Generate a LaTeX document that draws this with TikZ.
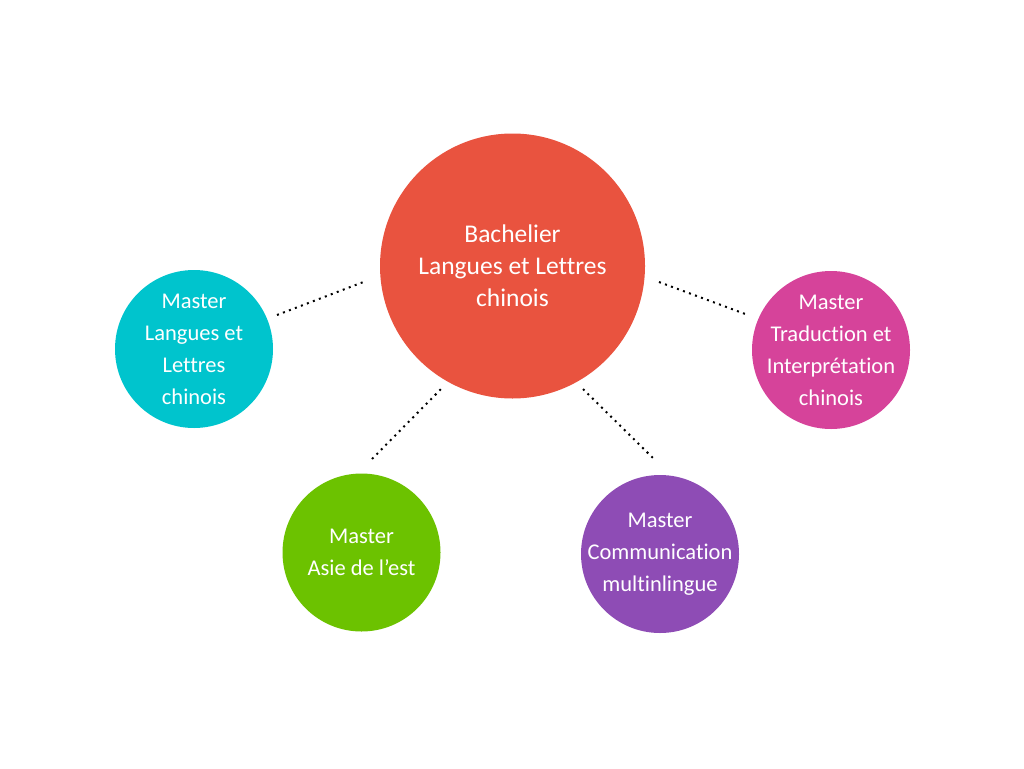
\documentclass[tikz,border=0pt]{standalone}
\usepackage{fontspec}
\setmainfont{Carlito}[Ligatures=NoCommon]
\definecolor{bachred}{HTML}{E9533F}
\definecolor{llcyan}{HTML}{00C4CD}
\definecolor{asgreen}{HTML}{6CC200}
\definecolor{compurple}{HTML}{8E4CB5}
\definecolor{tradpink}{HTML}{D6439A}
\begin{document}
\begin{tikzpicture}[x=1pt,y=-1pt,
    bigdisc/.style={circle,minimum size=265pt,inner sep=-20pt,align=center,text=white,
        font=\fontsize{25.5}{32}\selectfont},
    disc/.style={circle,minimum size=158pt,inner sep=-20pt,align=center,text=white,
        font=\fontsize{22.5}{32}\selectfont},
    link/.style={line width=2pt,dash pattern=on 2pt off 4.4pt}]
            \useasboundingbox (0,0) rectangle (1024,768);
            \node [bigdisc,fill=bachred] (bach) at (512.5,266) {Bachelier\\Langues et Lettres\\chinois};
            \node [disc,fill=llcyan] (langues) at (194,349) {Master\\Langues et\\Lettres\\chinois};
            \node [disc,fill=tradpink] (trad) at (831,350) {Master\\Traduction et\\Interprétation\\chinois};
            \node [disc,fill=asgreen] (asie) at (361.5,552.5) {Master\\Asie de l’est};
            \node [disc,fill=compurple] (comm) at (660,554) {Master\\Communication\\multinlingue};
            % dotted connectors, with a gap at both ends
            \coordinate (l1) at (277,315); \coordinate (l2) at (366,281);
            \coordinate (r1) at (659,282); \coordinate (r2) at (748,315);
            \coordinate (a1) at (372,459); \coordinate (a2) at (442,388);
            \coordinate (c1) at (583,389); \coordinate (c2) at (655,460);
            \draw [link] (l1) -- (l2);
            \draw [link] (r1) -- (r2);
            \draw [link] (a1) -- (a2);
            \draw [link] (c1) -- (c2);
        \end{tikzpicture}
\end{document}
